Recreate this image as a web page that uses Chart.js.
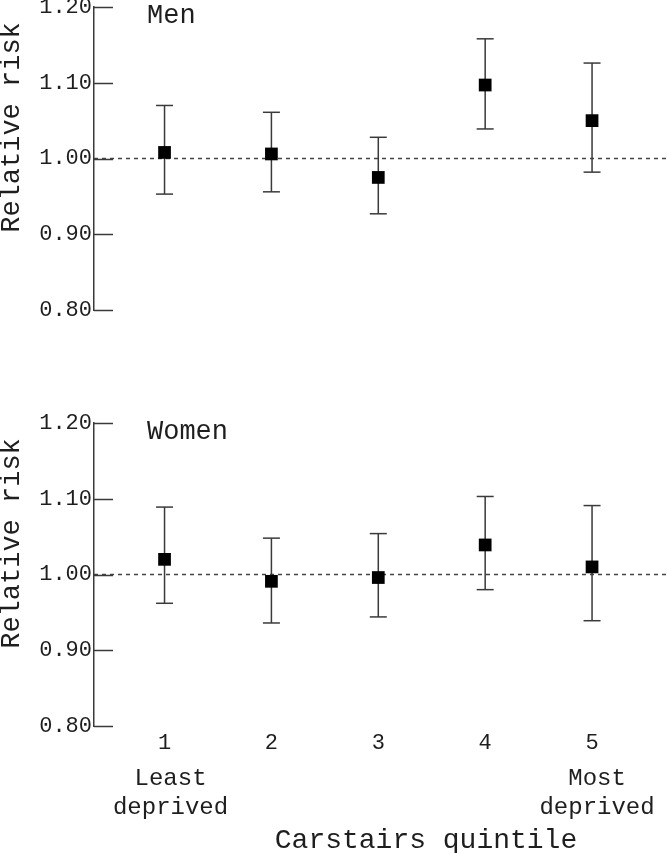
<!DOCTYPE html>
<html><head><meta charset="utf-8">
<script src="https://cdn.jsdelivr.net/npm/chart.js@4.4.1/dist/chart.umd.min.js"></script>
<style>
html,body{margin:0;padding:0;background:#fff;}
body{width:669px;height:853px;position:relative;overflow:hidden;}
canvas{position:absolute;left:0;}
#topChart{top:0;}
#bottomChart{top:400px;}
</style></head><body>
<canvas id="topChart" width="669" height="330"></canvas>
<canvas id="bottomChart" width="669" height="453"></canvas>
<script>
// ---- data ----
const quintiles = [1, 2, 3, 4, 5];
const quintileLabels = ['1', '2', '3', '4', '5'];
const yTickValues = [0.80, 0.90, 1.00, 1.10, 1.20];
const referenceValue = 1.00;

const menRR    = [1.008, 1.006, 0.975, 1.097, 1.050];
const menLower = [0.953, 0.956, 0.927, 1.039, 0.982];
const menUpper = [1.070, 1.061, 1.028, 1.158, 1.126];

const womenRR    = [1.020, 0.991, 0.996, 1.039, 1.010];
const womenLower = [0.962, 0.936, 0.944, 0.980, 0.939];
const womenUpper = [1.089, 1.048, 1.054, 1.103, 1.091];

const panelTitles = ['Men', 'Women'];
const yAxisTitle = 'Relative risk';
const xAxisTitle = 'Carstairs quintile';
const lowEndLabel = ['Least', 'deprived'];
const highEndLabel = ['Most', 'deprived'];

// ---- style ----
const FONT = "'Liberation Mono', 'DejaVu Sans Mono', monospace";
const INK = '#1e1e1e';
const LINE = '#3a3a3a';
const X_MIN = 0.34, X_MAX = 5.72;

function panelPlugin(title, isBottom) {
  return {
    id: 'panelDecor',
    afterDraw(chart) {
      const ctx = chart.ctx;
      const ca = chart.chartArea;
      const ys = chart.scales.y;
      const xs = chart.scales.x;
      ctx.save();
      // inward tick marks
      ctx.strokeStyle = LINE;
      ctx.lineWidth = 1.5;
      yTickValues.forEach(v => {
        const py = Math.round(ys.getPixelForValue(v)) + 0.5;
        ctx.beginPath();
        ctx.moveTo(ca.left, py);
        ctx.lineTo(ca.left + 19, py);
        ctx.stroke();
      });
      ctx.fillStyle = INK;
      // panel title
      ctx.font = '27px ' + FONT;
      ctx.textAlign = 'left';
      ctx.textBaseline = 'middle';
      ctx.fillText(title, ca.left + 53, ys.getPixelForValue(1.2) + 9);
      // y axis title
      ctx.save();
      ctx.translate(12, (ca.top + ca.bottom) / 2 - 31);
      ctx.rotate(-Math.PI / 2);
      ctx.textAlign = 'center';
      ctx.textBaseline = 'middle';
      ctx.font = '27px ' + FONT;
      ctx.fillText(yAxisTitle, 0, 0);
      ctx.restore();
      if (isBottom) {
        ctx.textAlign = 'center';
        ctx.textBaseline = 'middle';
        ctx.font = '24px ' + FONT;
        const x1 = xs.getPixelForValue(quintiles[0]) + 6;
        const x5 = xs.getPixelForValue(quintiles[4]) + 5;
        ctx.fillText(lowEndLabel[0], x1, ca.bottom + 53);
        ctx.fillText(lowEndLabel[1], x1, ca.bottom + 82);
        ctx.fillText(highEndLabel[0], x5, ca.bottom + 53);
        ctx.fillText(highEndLabel[1], x5, ca.bottom + 82);
        ctx.font = '28px ' + FONT;
        ctx.fillText(xAxisTitle, 426, ca.bottom + 115);
      }
      ctx.restore();
    }
  };
}

function makeChart(id, rr, lo, hi, title, isBottom) {
  const markers = quintiles.map((q, i) => ({x: q, y: rr[i]}));
  const caps = quintiles.flatMap((q, i) => [{x: q, y: lo[i]}, {x: q, y: hi[i]}]);
  const whiskers = quintiles.flatMap((q, i) => [{x: q, y: lo[i]}, {x: q, y: hi[i]}, {x: q, y: null}]);
  const ref = [{x: X_MIN, y: referenceValue}, {x: X_MAX, y: referenceValue}];
  return new Chart(document.getElementById(id), {
    type: 'scatter',
    data: {
      datasets: [
        {data: markers, pointStyle: 'rect', pointRadius: 9, pointHoverRadius: 9,
         backgroundColor: '#000', borderColor: '#000', borderWidth: 0, showLine: false},
        {data: caps, pointStyle: 'line', pointRadius: 8.5, pointHoverRadius: 8.5,
         borderColor: LINE, backgroundColor: LINE, borderWidth: 1.5, showLine: false},
        {data: whiskers, showLine: true, spanGaps: false, borderColor: LINE, borderWidth: 1.5,
         pointRadius: 0, pointHoverRadius: 0},
        {data: ref, showLine: true, borderColor: '#444', borderWidth: 1.5, borderDash: [4, 4],
         pointRadius: 0, pointHoverRadius: 0}
      ]
    },
    options: {
      responsive: false,
      animation: false,
      devicePixelRatio: 1,
      events: [],
      layout: {
        autoPadding: false,
        padding: isBottom ? {top: 23, bottom: 0, left: 0, right: 0} : {top: 7, bottom: 20, left: 0, right: 0}
      },
      plugins: {legend: {display: false}, tooltip: {enabled: false}},
      scales: {
        x: {
          type: 'linear', min: X_MIN, max: X_MAX, display: isBottom,
          afterBuildTicks: s => { s.ticks = quintiles.map(v => ({value: v})); },
          ticks: {
            callback: v => { const i = quintiles.indexOf(v); return i >= 0 ? quintileLabels[i] : ''; },
            font: {family: FONT, size: 22}, color: INK, padding: 4, maxRotation: 0, autoSkip: false
          },
          grid: {display: true, drawOnChartArea: false, drawTicks: false},
          border: {display: false},
          afterFit: s => { s.height = isBottom ? 127 : 0; s.paddingLeft = 0; s.paddingRight = 0; }
        },
        y: {
          min: 0.8, max: 1.2,
          afterBuildTicks: s => { s.ticks = yTickValues.map(v => ({value: v})); },
          ticks: {callback: v => Number(v).toFixed(2), font: {family: FONT, size: 22}, color: INK, padding: 2},
          grid: {display: true, drawOnChartArea: false, drawTicks: false},
          border: {display: true, color: LINE, width: 1.5},
          afterFit: s => { s.width = 94; s.paddingTop = 0; s.paddingBottom = 0; }
        }
      }
    },
    plugins: [panelPlugin(title, isBottom)]
  });
}

makeChart('topChart', menRR, menLower, menUpper, panelTitles[0], false);
makeChart('bottomChart', womenRR, womenLower, womenUpper, panelTitles[1], true);
</script>
</body></html>
